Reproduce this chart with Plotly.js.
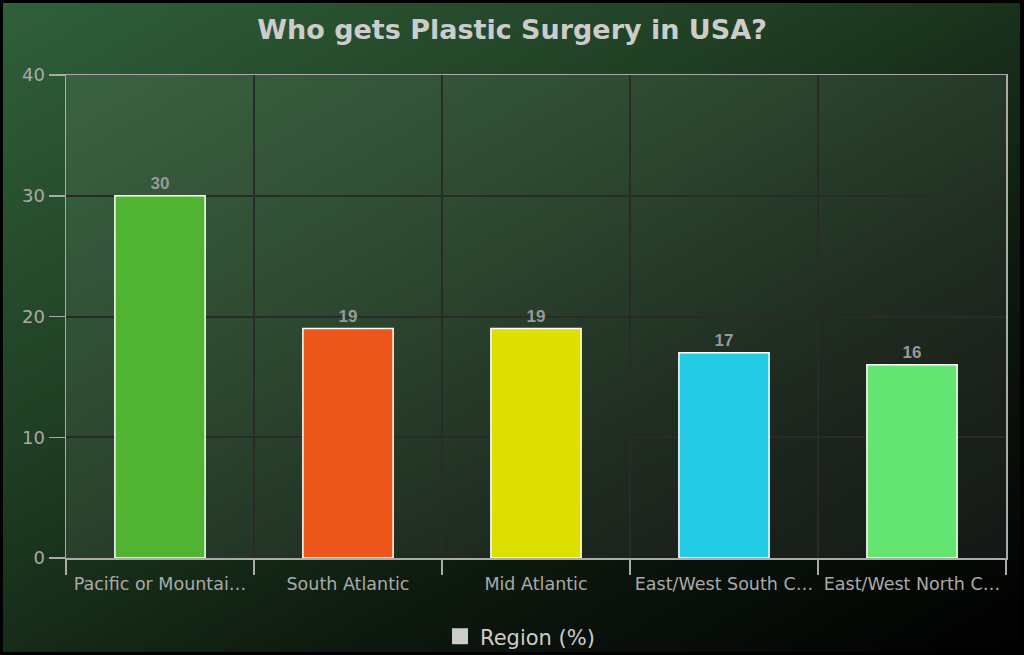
<!DOCTYPE html>
<html>
<head>
<meta charset="utf-8">
<script src="https://cdn.plot.ly/plotly-3.0.1.min.js"></script>
<style>
  body { margin: 0; background: #000; }
  #wrap { position: relative; width: 1024px; height: 655px;
          background: linear-gradient(150deg, #30603a 0%, #1f3d22 38%, #0d190e 68%, #000 100%); }
  #frame { position: absolute; left: 0; top: 0; width: 1024px; height: 655px;
           box-sizing: border-box; border: 3px solid #000; border-right-width: 4px; pointer-events: none; }
</style>
</head>
<body>
<div id="wrap">
  <div id="chart" style="width:1024px;height:655px;"></div>
  <div id="frame"></div>
</div>
<script>
// Chart values
let regions = ["Pacific or Mountain", "South Atlantic", "Mid Atlantic", "East/West South Central", "East/West North Central"];
let tickLabels = ["Pacific or Mountai…", "South Atlantic", "Mid Atlantic", "East/West South C…", "East/West North C…"];
let percents = [30, 19, 19, 17, 16];
let barColors = ["#50b432", "#ed561b", "#dddf00", "#24cbe5", "#64e572"];

let data_ = [{
    x: regions,
    y: percents,
    type: 'bar',
    width: 0.48,
    text: percents.map(String),
    textposition: 'outside',
    cliponaxis: false,
    textfont: { family: 'Liberation Sans, Arial, sans-serif', size: 17, color: '#999999', weight: 'bold' },
    marker: { color: barColors, line: { color: '#ffffff', width: 1.5 } },
    showlegend: false
}, {
    // legend entry only
    x: [regions[0]],
    y: [null],
    type: 'scatter',
    mode: 'markers',
    name: 'Region (%)',
    marker: { color: '#cccccc', symbol: 'square', size: 16 },
    showlegend: true
}];

let layout = {
    title: {
        text: 'Who gets Plastic Surgery in USA?',
        font: { family: 'DejaVu Sans, sans-serif', size: 27, color: '#cccccc', weight: 'bold' },
        x: 0.5, xanchor: 'center', y: 0.955, yanchor: 'middle'
    },
    paper_bgcolor: 'rgba(0,0,0,0)',
    plot_bgcolor: 'rgba(255,255,255,0.07)',
    margin: { l: 66, r: 18, t: 75, b: 97 },
    xaxis: {
        type: 'category',
        tickvals: regions,
        ticktext: tickLabels,
        tickson: 'boundaries',
        ticks: 'outside',
        ticklen: 15,
        tickcolor: '#aaaaaa',
        tickwidth: 1.5,
        ticklabelstandoff: 9,
        showgrid: true,
        gridcolor: '#2a2a2a',
        gridwidth: 2,
        showline: true,
        linecolor: '#aaaaaa',
        linewidth: 1.5,
        mirror: true,
        tickfont: { family: 'DejaVu Sans, sans-serif', size: 17.5, color: '#aaaaaa' },
        automargin: false,
        fixedrange: true
    },
    yaxis: {
        range: [0, 40],
        dtick: 10,
        ticks: 'outside',
        ticklen: 16,
        tickcolor: '#aaaaaa',
        tickwidth: 1.5,
        showgrid: true,
        gridcolor: '#2a2a2a',
        gridwidth: 2,
        zeroline: false,
        showline: true,
        linecolor: '#aaaaaa',
        linewidth: 1.5,
        mirror: true,
        tickfont: { family: 'DejaVu Sans, sans-serif', size: 18, color: '#aaaaaa' },
        automargin: false,
        fixedrange: true
    },
    legend: {
        orientation: 'h',
        x: 0.483, xanchor: 'center',
        yref: 'container',
        y: 0.028, yanchor: 'middle',
        font: { family: 'DejaVu Sans, sans-serif', size: 21, color: '#cccccc' },
        bgcolor: 'rgba(0,0,0,0)'
    },
    showlegend: true
};

Plotly.newPlot('chart', data_, layout, { displayModeBar: false, staticPlot: true });
</script>
</body>
</html>
